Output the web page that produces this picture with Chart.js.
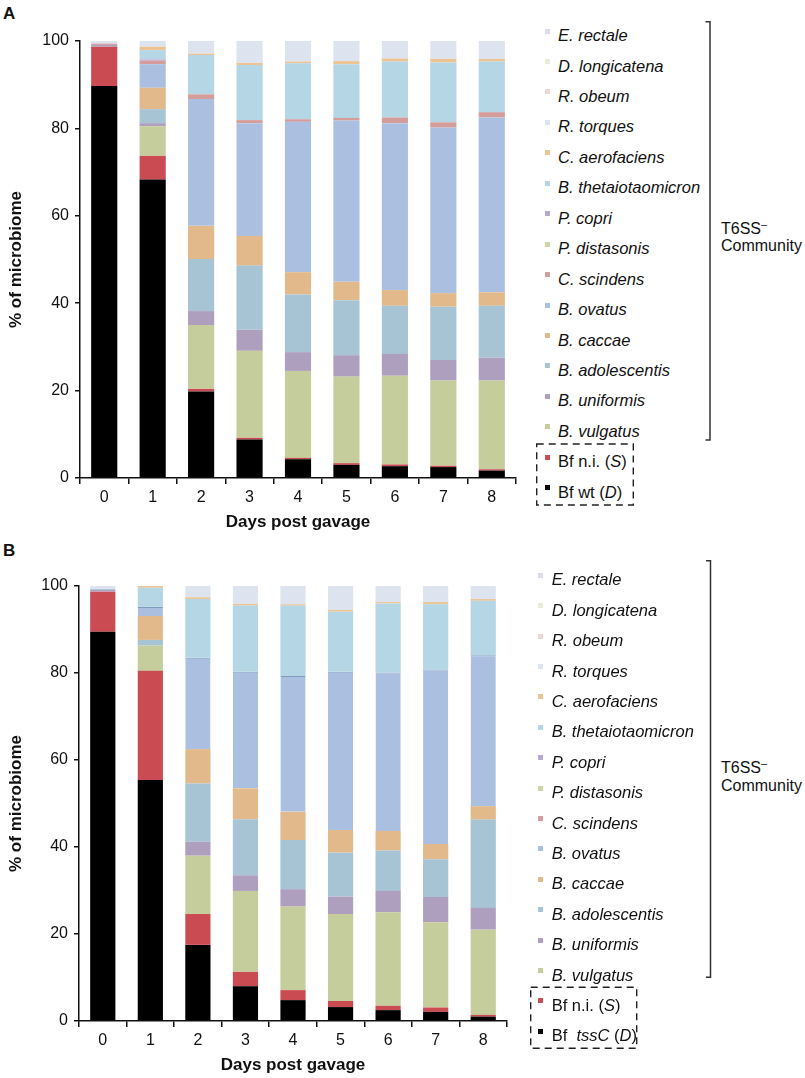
<!DOCTYPE html>
<html><head><meta charset="utf-8">
<script src="https://cdn.jsdelivr.net/npm/chart.js@4.4.1/dist/chart.umd.min.js"></script>
<style>
html,body{margin:0;padding:0;background:#fff;}
body{width:805px;height:1078px;position:relative;overflow:hidden;font-family:"Liberation Sans",Arial,Helvetica,sans-serif;color:#111;}
canvas{position:absolute;}
.plbl{position:absolute;font-weight:bold;font-size:17px;line-height:20px;}
.leg{position:absolute;font-size:16.5px;line-height:20px;white-space:nowrap;}
.sw{position:absolute;width:5px;height:5px;}
.t6{position:absolute;font-size:16px;line-height:18px;white-space:nowrap;}
.t6 span{position:relative;top:-6px;font-size:11px;}
svg{position:absolute;left:0;top:0;}
</style></head><body>
<div class="plbl" style="left:3px;top:4px">A</div>
<div class="plbl" style="left:3px;top:541px">B</div>
<canvas id="cA" width="540" height="540" style="left:0;top:0"></canvas>
<canvas id="cB" width="540" height="538" style="left:0;top:540px"></canvas>
<div id="legA"></div>
<div id="legB"></div>
<div class="t6" style="left:721px;top:220px">T6SS<span>–</span></div>
<div class="t6" style="left:721px;top:237px">Community</div>
<div class="t6" style="left:721px;top:759px">T6SS<span>–</span></div>
<div class="t6" style="left:721px;top:777px">Community</div>
<svg width="805" height="1078">
  <path d="M705.5 21.7 H710 V440 H705.5" fill="none" stroke="#333" stroke-width="1.5"/>
  <path d="M706 560.7 H710.5 V977.3 H706" fill="none" stroke="#333" stroke-width="1.5"/>
  <rect x="536.7" y="444" width="96.6" height="61" fill="none" stroke="#222" stroke-width="1.4" stroke-dasharray="7 5"/>
  <rect x="530.7" y="987.3" width="106" height="61" fill="none" stroke="#222" stroke-width="1.4" stroke-dasharray="7 5"/>
</svg>
<script>
// ---------- categories ----------
const days = ['0','1','2','3','4','5','6','7','8'];
const yTicks = [0, 20, 40, 60, 80, 100];

// ---------- Panel A values (% of microbiome) ----------
const A_BfWt          = [89.7, 68.3, 19.8, 8.8, 4.3, 3.0, 2.7, 2.5, 1.7];
const A_BfNi          = [9.0, 5.4, 0.6, 0.4, 0.3, 0.4, 0.4, 0.3, 0.3];
const A_Bvulgatus     = [0, 6.8, 14.6, 19.9, 19.9, 19.8, 20.3, 19.5, 20.3];
const A_Buniformis    = [0.4, 0.7, 3.2, 4.8, 4.3, 4.9, 5.0, 4.7, 5.2];
const A_Badolescentis = [0, 3.2, 11.9, 14.7, 13.2, 12.6, 11.0, 12.2, 11.9];
const A_Bcaccae       = [0, 4.9, 7.6, 6.8, 5.1, 4.2, 3.6, 3.1, 3.1];
const A_Bovatus       = [0, 5.4, 29.0, 25.8, 34.4, 36.9, 38.2, 37.9, 40.0];
const A_Cscindens     = [0.3, 0.8, 1.1, 0.7, 0.6, 0.6, 1.3, 1.2, 1.2];
const A_Pdistasonis   = [0, 0, 0, 0, 0, 0, 0, 0, 0];
const A_Pcopri        = [0, 0.3, 0, 0, 0, 0, 0, 0, 0];
const A_Btheta        = [0, 2.1, 9.0, 12.6, 12.8, 12.3, 12.8, 13.7, 11.6];
const A_Caerofaciens  = [0, 0.8, 0.3, 0.5, 0.4, 0.7, 0.7, 0.8, 0.6];
const A_Rtorques      = [0.6, 1.3, 2.9, 5.0, 4.7, 4.6, 4.0, 4.1, 4.1];
const A_Robeum        = [0, 0, 0, 0, 0, 0, 0, 0, 0];
const A_Dlongicatena  = [0, 0, 0, 0, 0, 0, 0, 0, 0];
const A_Erectale      = [0, 0, 0, 0, 0, 0, 0, 0, 0];

// ---------- Panel B values (% of microbiome) ----------
const B_BfTssC        = [89.5, 55.4, 17.5, 8.0, 4.8, 3.2, 2.5, 2.1, 1.0];
const B_BfNi          = [9.2, 25.1, 7.1, 3.3, 2.3, 1.4, 1.0, 1.0, 0.4];
const B_Bvulgatus     = [0, 5.8, 13.4, 18.6, 19.2, 20.0, 21.5, 19.6, 19.6];
const B_Buniformis    = [0.4, 0, 3.2, 3.6, 4.0, 4.0, 4.9, 5.8, 5.0];
const B_Badolescentis = [0.2, 1.3, 13.4, 12.9, 11.3, 10.1, 9.3, 8.7, 20.3];
const B_Bcaccae       = [0, 5.5, 7.9, 7.1, 6.5, 5.2, 4.5, 3.5, 3.1];
const B_Bovatus       = [0, 2.1, 21.0, 26.8, 31.2, 36.4, 36.4, 40.1, 34.7];
const B_Cscindens     = [0, 0, 0, 0, 0, 0, 0, 0, 0];
const B_Pdistasonis   = [0, 0, 0, 0, 0, 0, 0, 0, 0];
const B_Pcopri        = [0, 0, 0, 0, 0, 0, 0, 0, 0];
const B_Btheta        = [0, 4.4, 13.5, 15.2, 16.2, 13.8, 15.9, 15.0, 12.5];
const B_Caerofaciens  = [0, 0.4, 0.4, 0.4, 0.3, 0.4, 0.3, 0.5, 0.4];
const B_Rtorques      = [0.7, 0, 2.6, 4.1, 4.2, 5.5, 3.7, 3.7, 3.0];
const B_Robeum        = [0, 0, 0, 0, 0, 0, 0, 0, 0];
const B_Dlongicatena  = [0, 0, 0, 0, 0, 0, 0, 0, 0];
const B_Erectale      = [0, 0, 0, 0, 0, 0, 0, 0, 0];

// ---------- series (bottom of stack first) ----------
const seriesKeys = ['bf','bfni','vulgatus','uniformis','adolescentis','caccae','ovatus','scindens','distasonis','copri','theta','aerofaciens','torques','obeum','longicatena','rectale'];
const seriesColors = {
  bf:'#000000', bfni:'#cb4b53', vulgatus:'#c6cd9c', uniformis:'#ae9fbf', adolescentis:'#a6c4d3',
  caccae:'#e2b98b', ovatus:'#abc0e0', scindens:'#d49d9c', distasonis:'#cbd7a4', copri:'#b6a9cf',
  theta:'#b5d6e5', aerofaciens:'#ecc393', torques:'#dde3ef', obeum:'#ebd9d8', longicatena:'#e8eddb', rectale:'#dcdcea'
};
const seriesLabelsHTML = {
  bfni:'Bf n.i. (<i>S</i>)', vulgatus:'<i>B. vulgatus</i>', uniformis:'<i>B. uniformis</i>',
  adolescentis:'<i>B. adolescentis</i>', caccae:'<i>B. caccae</i>', ovatus:'<i>B. ovatus</i>',
  scindens:'<i>C. scindens</i>', distasonis:'<i>P. distasonis</i>', copri:'<i>P. copri</i>',
  theta:'<i>B. thetaiotaomicron</i>', aerofaciens:'<i>C. aerofaciens</i>', torques:'<i>R. torques</i>',
  obeum:'<i>R. obeum</i>', longicatena:'<i>D. longicatena</i>', rectale:'<i>E. rectale</i>'
};

const panelA = {
  bf:A_BfWt, bfni:A_BfNi, vulgatus:A_Bvulgatus, uniformis:A_Buniformis, adolescentis:A_Badolescentis,
  caccae:A_Bcaccae, ovatus:A_Bovatus, scindens:A_Cscindens, distasonis:A_Pdistasonis, copri:A_Pcopri,
  theta:A_Btheta, aerofaciens:A_Caerofaciens, torques:A_Rtorques, obeum:A_Robeum, longicatena:A_Dlongicatena, rectale:A_Erectale
};
const panelB = {
  bf:B_BfTssC, bfni:B_BfNi, vulgatus:B_Bvulgatus, uniformis:B_Buniformis, adolescentis:B_Badolescentis,
  caccae:B_Bcaccae, ovatus:B_Bovatus, scindens:B_Cscindens, distasonis:B_Pdistasonis, copri:B_Pcopri,
  theta:B_Btheta, aerofaciens:B_Caerofaciens, torques:B_Rtorques, obeum:B_Robeum, longicatena:B_Dlongicatena, rectale:B_Erectale
};

Chart.defaults.font.family = '"Liberation Sans", Arial, Helvetica, sans-serif';
Chart.defaults.color = '#111';

function makeChart(id, data, g) {
  const datasets = seriesKeys.map(k => {
    const ds = {
      label: k, data: data[k], backgroundColor: seriesColors[k],
      borderWidth: 0, barPercentage: g.barPct, categoryPercentage: 1.0
    };
    if (g.ovatusLine && k === 'ovatus') {
      ds.borderWidth = {top: 1, left: 0, right: 0, bottom: 0};
      ds.borderColor = '#7f9cc0';
      ds.borderSkipped = false;
    }
    return ds;
  });
  return new Chart(document.getElementById(id), {
    type: 'bar',
    data: { labels: days, datasets },
    options: {
      responsive: false, animation: false, devicePixelRatio: 1,
      layout: { padding: { top: g.top, right: g.right, left: 0, bottom: 0 } },
      plugins: { legend: { display: false }, tooltip: { enabled: false } },
      scales: {
        x: {
          stacked: true,
          grid: { display: true, drawOnChartArea: false, drawTicks: true, tickLength: 6, color: '#111', lineWidth: 1.5, offset: true },
          border: { display: true, color: '#111', width: 1.5 },
          ticks: { font: { size: 16 }, color: '#111', padding: 4 },
          title: { display: true, text: 'Days post gavage', color: '#111', font: { size: 17, weight: 'bold' }, padding: { top: 0, bottom: g.xtPad } },
          afterFit: s => { s.height = g.xH; }
        },
        y: {
          stacked: true, min: 0, max: 100,
          afterBuildTicks: s => { s.ticks = yTicks.map(v => ({ value: v })); },
          grid: { display: true, drawOnChartArea: false, drawTicks: true, tickLength: 5, color: '#111', lineWidth: 1.5 },
          border: { display: true, color: '#111', width: 1.5 },
          ticks: { font: { size: 16 }, color: '#111', padding: 6 },
          title: { display: true, text: '% of microbiome', color: '#111', font: { size: 17, weight: 'bold' }, padding: { top: 6, bottom: 0 } },
          afterFit: s => { s.width = g.yW; }
        }
      }
    }
  });
}

makeChart('cA', panelA, { barPct: 0.54, top: 41, right: 24, xH: 62, yW: 80, xtPad: 7 });
makeChart('cB', panelB, { barPct: 0.53, top: 46, right: 33, xH: 57, yW: 79, xtPad: 2, ovatusLine: true });

function buildLegend(elId, y0, step, swX, txX, wtLabel) {
  const el = document.getElementById(elId);
  const order = seriesKeys.slice().reverse();
  let html = '';
  order.forEach((k, i) => {
    const cy = y0 + i * step;
    const lab = k === 'bf' ? wtLabel : seriesLabelsHTML[k];
    html += '<div class="sw" style="left:' + swX + 'px;top:' + (cy - 6.5).toFixed(1) + 'px;background:' + seriesColors[k] + '"></div>';
    html += '<div class="leg" style="left:' + txX + 'px;top:' + (cy - 10).toFixed(1) + 'px">' + lab + '</div>';
  });
  el.innerHTML = html;
}
buildLegend('legA', 35, 30.45, 544.5, 558, 'Bf wt (<i>D</i>)');
buildLegend('legB', 579.3, 30.4, 537.5, 551.7, 'Bf&nbsp;&nbsp;<i>tssC</i> (<i>D</i>)');
</script>
</body></html>
